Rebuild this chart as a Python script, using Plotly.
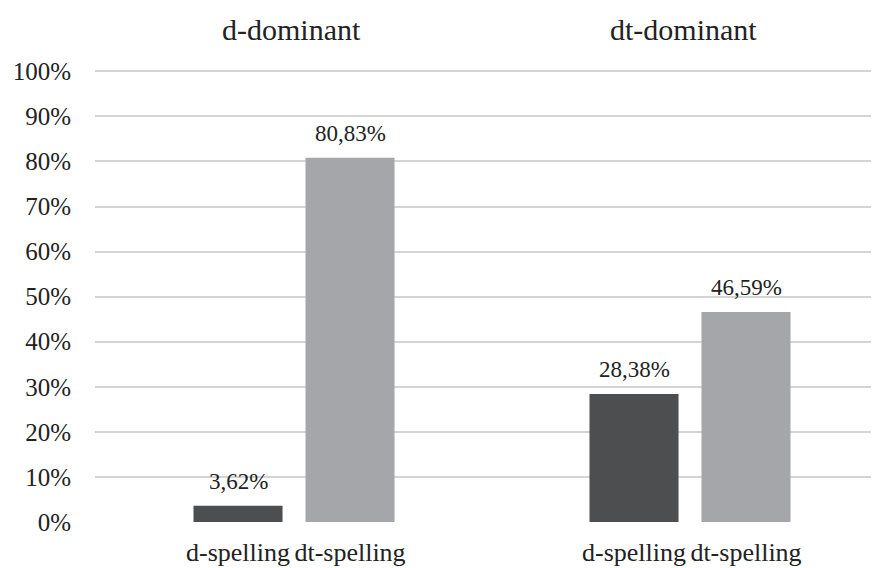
import plotly.graph_objects as go
from plotly.subplots import make_subplots

groups = ["d-dominant", "dt-dominant"]
spellings = ["d-spelling", "dt-spelling"]
d_dominant = [0.0362, 0.8083]
dt_dominant = [0.2838, 0.4659]
series = [d_dominant, dt_dominant]
bar_colors = ["#4d4e50", "#a5a6a9"]
y_ticks = [i / 10 for i in range(11)]

FONT = "'Liberation Serif', 'Times New Roman', Times, serif"
TXT = "#222222"

fig = make_subplots(rows=1, cols=2, shared_yaxes=True, horizontal_spacing=0,
                    subplot_titles=groups)

for i, vals in enumerate(series):
    fig.add_trace(go.Bar(
        x=spellings, y=vals,
        marker=dict(color=bar_colors, line=dict(width=0)),
        showlegend=False, hoverinfo="x+y",
    ), row=1, col=i + 1)
    xref = "x" if i == 0 else "x2"
    for cat, v in zip(spellings, vals):
        fig.add_annotation(
            x=cat, y=v, xref=xref, yref="y",
            text=f"{v * 100:.2f}%".replace(".", ","),
            showarrow=False, yanchor="bottom", yshift=10,
            font=dict(family=FONT, size=23, color=TXT),
        )

fig.update_layout(
    width=879, height=568,
    margin=dict(l=87, r=8, t=62, b=54),
    paper_bgcolor="white", plot_bgcolor="white",
    separators=",.",
    bargap=0.205,
    font=dict(family=FONT, size=23, color=TXT),
)

fig.update_xaxes(showgrid=False, showline=False, zeroline=False,
                 ticks="", ticklabelstandoff=12, automargin=False,
                 tickfont=dict(family=FONT, size=26, color=TXT))
fig.update_xaxes(range=[-1.277, 2.223], row=1, col=1)
fig.update_xaxes(range=[-1.3125, 2.1875], row=1, col=2)

fig.update_yaxes(range=[0, 1.003], tickvals=y_ticks, tickformat=".0%",
                 showgrid=True, gridcolor="#d4d4d4", gridwidth=1.5,
                 zeroline=False, showline=False, ticks="", automargin=False,
                 tickfont=dict(family=FONT, size=25, color=TXT))
fig.update_yaxes(ticklabelstandoff=23, row=1, col=1)

for ann in fig.layout.annotations:
    if ann.text in groups:
        ann.font = dict(family=FONT, size=30, color=TXT)
        ann.yshift = 22

fig.write_html("out.html")
